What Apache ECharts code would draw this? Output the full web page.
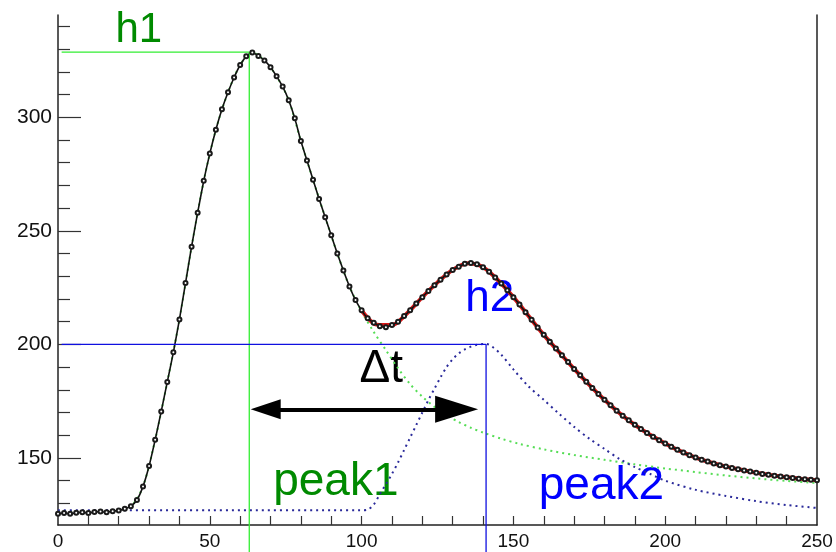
<!DOCTYPE html>
<html>
<head>
<meta charset="utf-8">
<script src="https://cdn.jsdelivr.net/npm/echarts@6/dist/echarts.min.js"></script>
<style>
html, body { margin: 0; padding: 0; background: #fff; }
#main { width: 836px; height: 552px; }
</style>
</head>
<body>
<div id="main"></div>
<script>
var chartDom = document.getElementById('main');
var myChart = echarts.init(chartDom);
var option;

var FONT = '"Liberation Sans", Arial, sans-serif';

// measured points (black, with markers)
var dataX = [0,2,4,6,8,10,12,14,16,18,20,22,24,26,28,30,32,34,36,38,40,42,44,46,48,50,52,54,56,58,60,62,64,66,68,70,72,74,76,78,80,82,84,86,88,90,92,94,96,98,100,102,104,106,108,110,112,114,116,118,120,122,124,126,128,130,132,134,136,138,140,142,144,146,148,150,152,154,156,158,160,162,164,166,168,170,172,174,176,178,180,182,184,186,188,190,192,194,196,198,200,202,204,206,208,210,212,214,216,218,220,222,224,226,228,230,232,234,236,238,240,242,244,246,248,250];
var dataY = [125.5,125.8,125.4,125.9,126.1,125.8,126.2,126.4,126.1,126.6,126.9,127.6,128.8,131.5,137.5,146.5,158,170.5,183.5,196.5,211,227,243,258,272,284,294.5,303.5,311,317.5,323,326.8,328.5,327,325,322,318,313.5,307.5,299.5,289.5,281,272.5,264,256,248,240,232.5,225.5,219.5,215,211.5,209.5,208,207.6,208.5,210,212.5,215,218,220.8,223.5,226,228.5,230.8,232.8,234.2,235.5,235.8,235.3,234,232,229.5,226.8,223.8,220.8,217.6,214.2,210.8,207.4,204.2,201.2,198.2,195.2,192.2,189.2,186.4,183.6,180.8,178.2,175.6,173.2,170.8,168.6,166.6,164.6,162.8,161,159.4,157.8,156.4,155,153.6,152.4,151.2,150.2,149.2,148.4,147.6,146.8,146.2,145.6,145,144.5,144,143.5,143,142.6,142.2,141.8,141.5,141.2,140.9,140.6,140.4,140.2];

// total fit (red)
var fitX = [100,105,110,115,120,125,130,135,140,145,150,155,160,165,170,175,180,185,190,195,200,205,210,215,220,225,230,235,240,245,250];
var fitY = [215,208.7,208.5,213.7,220.8,227.3,232.8,235.7,234,228.2,220.8,212.5,204.2,196.7,189.2,182.2,175.6,169.7,164.6,160.2,156.4,153,150.2,148,146.2,144.8,143.5,142.4,141.5,140.8,140.2];

// component peak1 (green dotted)
var peak1X = [0,10,20,24,28,32,36,40,44,48,52,56,60,64,68,72,76,80,84,88,92,96,100,104,108,112,116,120,124,128,132,136,140,146,152,160,170,180,190,200,210,220,230,240,250];
var peak1Y = [126.5,126.5,126.8,128.5,137.5,158,183.5,211,243,272,294.5,311,323,328.5,325,318,307.5,289.5,272.5,256,240,225.5,214.5,205.5,197.5,189.5,182.5,177,172.5,168.8,165.8,163.3,161.2,158.5,156.2,153.8,151.3,149.2,147.2,145.4,143.8,142.3,141,139.9,139];

// component peak2 (blue dotted)
var peak2X = [0,50,100,102,104,106,108,110,112,114,116,118,120,122,124,126,128,130,132,134,136,138,141,143,146,150,155,160,165,170,175,180,185,190,195,200,210,220,230,240,250];
var peak2Y = [127,127,127,127.3,129.5,134,138.5,143,148,153.5,159,164.5,170,175.5,180.5,185.5,190,193.5,196,197.8,199,199.8,200.2,199,195.5,189,181.5,175.6,169.5,163.7,158.5,154,149.5,146,143,140,136,133.3,131,129.3,128];

// tick values
var xLabels = [0, 50, 100, 150, 200, 250];
var xTicks = [10,20,30,40,50,60,70,80,90,100,110,120,130,140,150,160,170,180,190,200,210,220,230,240];
var yLabels = [150, 200, 250, 300];
var yMinor = [130,140,160,170,180,190,210,220,230,240,260,270,280,290,310,320,330,340];

// guide markers: peak heights and positions
var h1 = [63, 328.7];
var h2 = [141, 200];
var arrowFrom = [68.4, 171.4];
var arrowTo = [131.3, 171.4];

// text annotations
var annText = ['h1', 'h2', '\u0394t', 'peak1', 'peak2'];
var annX = [26.6, 142.2, 106.5, 91.5, 179];
var annY = [338.3, 220, 189.2, 139.2, 137.7];
var annColor = ['#008a00', '#0000ff', '#000000', '#008a00', '#0000ff'];
var annSize = [42, 44, 46, 46, 46];

function pairs(xs, ys) {
    return xs.map(function (x, i) { return [x, ys[i]]; });
}

var yBottom = 108;   // guides run past the x axis down to the picture edge

option = {
    animation: false,
    backgroundColor: '#fff',
    grid: { left: 58, right: 19, top: 15, bottom: 27 },
    xAxis: {
        type: 'value', min: 0, max: 250,
        axisLine: { lineStyle: { color: '#222', width: 1.5 } },
        axisTick: { inside: true, length: 9, customValues: xTicks, lineStyle: { color: '#333', width: 1.2 } },
        axisLabel: { customValues: xLabels, fontSize: 19, color: '#111', margin: 7, fontFamily: FONT },
        splitLine: { show: false }
    },
    yAxis: [
        {
            type: 'value', min: 120.5, max: 345, position: 'left', offset: 0,
            axisLine: { show: true, lineStyle: { color: '#222', width: 1.5 } },
            axisTick: { inside: true, length: 23, customValues: yLabels, lineStyle: { color: '#333', width: 1.2 } },
            axisLabel: { customValues: yLabels, fontSize: 21, color: '#111', margin: 6, fontFamily: FONT },
            splitLine: { show: false }
        },
        {
            type: 'value', min: 120.5, max: 345, position: 'left', offset: 0,
            axisLine: { show: false },
            axisTick: { inside: true, length: 12, customValues: yMinor, lineStyle: { color: '#333', width: 1.2 } },
            axisLabel: { show: false },
            splitLine: { show: false }
        },
        {
            type: 'value', min: 120.5, max: 345, position: 'right', offset: 0,
            axisLine: { show: true, lineStyle: { color: '#222', width: 1.5 } },
            axisTick: { show: false },
            axisLabel: { show: false },
            splitLine: { show: false }
        }
    ],
    series: [
        {
            name: 'peak1', type: 'line', data: pairs(peak1X, peak1Y),
            smooth: 0.3, symbol: 'none',
            lineStyle: { color: '#55dd55', width: 2, type: [2, 4] }
        },
        {
            name: 'peak2', type: 'line', data: pairs(peak2X, peak2Y),
            smooth: 0.3, symbol: 'none',
            lineStyle: { color: '#2a2a9a', width: 2, type: [2, 4] }
        },
        {
            name: 'fit', type: 'line', data: pairs(fitX, fitY),
            smooth: 0.3, symbol: 'none',
            lineStyle: { color: '#d81818', width: 4 }
        },
        {
            name: 'data', type: 'line', data: pairs(dataX, dataY),
            smooth: 0.2, symbol: 'emptyCircle', symbolSize: 4, showAllSymbol: true,
            itemStyle: { color: '#1a1a1a', borderWidth: 1 },
            lineStyle: { color: '#111', width: 1.6 }
        },
        {
            name: 'h1 guide', type: 'line', clip: false, symbol: 'none',
            data: [[1.2, h1[1]], h1, [h1[0], yBottom]],
            lineStyle: { color: '#33ee33', width: 1.3 },
            markLine: {
                silent: true,
                symbol: ['triangle', 'triangle'],
                label: { show: false },
                lineStyle: { color: '#000', width: 4, type: 'solid' },
                data: [[
                    { coord: arrowFrom, symbolSize: [20, 30] },
                    { coord: arrowTo, symbolSize: [27, 43] }
                ]]
            }
        },
        {
            name: 'h2 guide', type: 'line', clip: false, symbol: 'none',
            data: [[1.2, h2[1]], h2, [h2[0], yBottom]],
            lineStyle: { color: '#1010e0', width: 1.3 }
        },
        {
            name: 'labels', type: 'scatter', clip: false,
            symbolSize: 1,
            itemStyle: { color: 'transparent', opacity: 1 },
            label: {
                show: true, position: 'inside',
                fontFamily: FONT,
                formatter: function (p) { return p.data.text; }
            },
            data: annText.map(function (t, i) {
                return {
                    value: [annX[i], annY[i]], text: t,
                    label: { color: annColor[i], fontSize: annSize[i] }
                };
            })
        }
    ]
};

option && myChart.setOption(option);
</script>
</body>
</html>
